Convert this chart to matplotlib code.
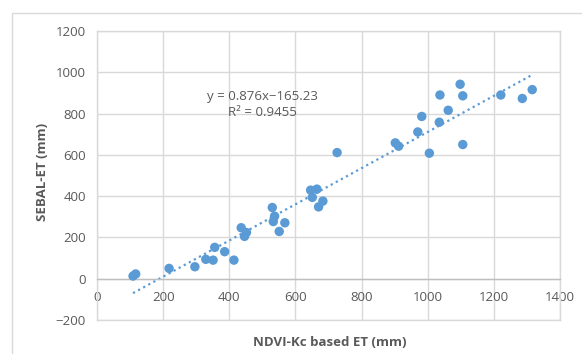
import matplotlib
matplotlib.use("Agg")
import matplotlib.pyplot as plt
from matplotlib.patches import Rectangle
import numpy as np

plt.rcParams['font.family'] = ['Open Sans', 'DejaVu Sans']

ndvi_kc_et = [109, 117, 218, 296, 329, 351, 356, 386, 414, 436, 446, 452,
              530, 533, 537, 551, 568, 646, 651, 665, 670, 683,
              726, 902, 912, 970, 982, 1005, 1035, 1037, 1062, 1098,
              1106, 1106, 1221, 1286, 1316]
sebal_et = [13, 23, 50, 58, 94, 90, 152, 131, 90, 247, 205, 224,
            345, 277, 303, 229, 271, 429, 394, 434, 348, 376,
            611, 658, 642, 711, 786, 608, 758, 890, 816, 942,
            886, 650, 890, 873, 916]
slope = 0.876
intercept = -165.23
r2 = 0.9455
x_ticks = [0, 200, 400, 600, 800, 1000, 1200, 1400]
y_ticks = [-200, 0, 200, 400, 600, 800, 1000, 1200]

W, H = 582, 354
fig = plt.figure(figsize=(W / 100, H / 100), dpi=100)
ax = fig.add_axes([97 / W, 1 - 320 / H, (560 - 97) / W, (320 - 31) / H])

grid_c = '#d9d9d9'
txt_c = '#595959'
blue = '#5b9bd5'

# outer chart frame (extends past right and bottom edges)
fig.patches.append(Rectangle((12 / W, -0.5), 2.0, 1.5 - 13 / H,
                             transform=fig.transFigure, fill=False,
                             edgecolor=grid_c, lw=1.0))

ax.set_xlim(0, 1400)
ax.set_ylim(-200, 1200)
ax.set_xticks(x_ticks)
ax.set_yticks(y_ticks)
ax.grid(True, color=grid_c, lw=1.0)
ax.set_axisbelow(True)
for s in ['left', 'right', 'top']:
    ax.spines[s].set_color(grid_c)
    ax.spines[s].set_linewidth(1.0)
ax.spines['bottom'].set_position(('data', 0))
ax.spines['bottom'].set_color('#bfbfbf')
ax.spines['bottom'].set_linewidth(1.0)
ax.axhline(-200, color=grid_c, lw=1.0, clip_on=False, zorder=0)

ax.tick_params(axis='both', length=0, labelsize=9.5, labelcolor=txt_c)
ax.tick_params(axis='x', pad=9)
ax.tick_params(axis='y', pad=8)

xs = np.array([min(ndvi_kc_et), max(ndvi_kc_et)])
ax.plot(xs, slope * xs + intercept, linestyle=(0, (1, 1.6)), color=blue,
        lw=1.6, zorder=2)
ax.scatter(ndvi_kc_et, sebal_et, s=46, color=blue, edgecolors='none', zorder=3)

ax.text(499, 882, f"y = {slope}x\u2212{abs(intercept)}", ha='center', va='center',
        fontsize=9.5, color=txt_c)
ax.text(499, 805, f"R\u00b2 = {r2}", ha='center', va='center',
        fontsize=9.5, color=txt_c)

fig.text(330 / W, 1 - 343 / H, "NDVI-Kc based ET (mm)", ha='center', va='center',
         fontsize=9.5, fontweight='bold', color=txt_c)
fig.text(43 / W, 1 - 172 / H, "SEBAL-ET (mm)", ha='center', va='center',
         rotation=90, fontsize=9.5, fontweight='bold', color=txt_c)

fig.savefig("out.png", dpi=100)
